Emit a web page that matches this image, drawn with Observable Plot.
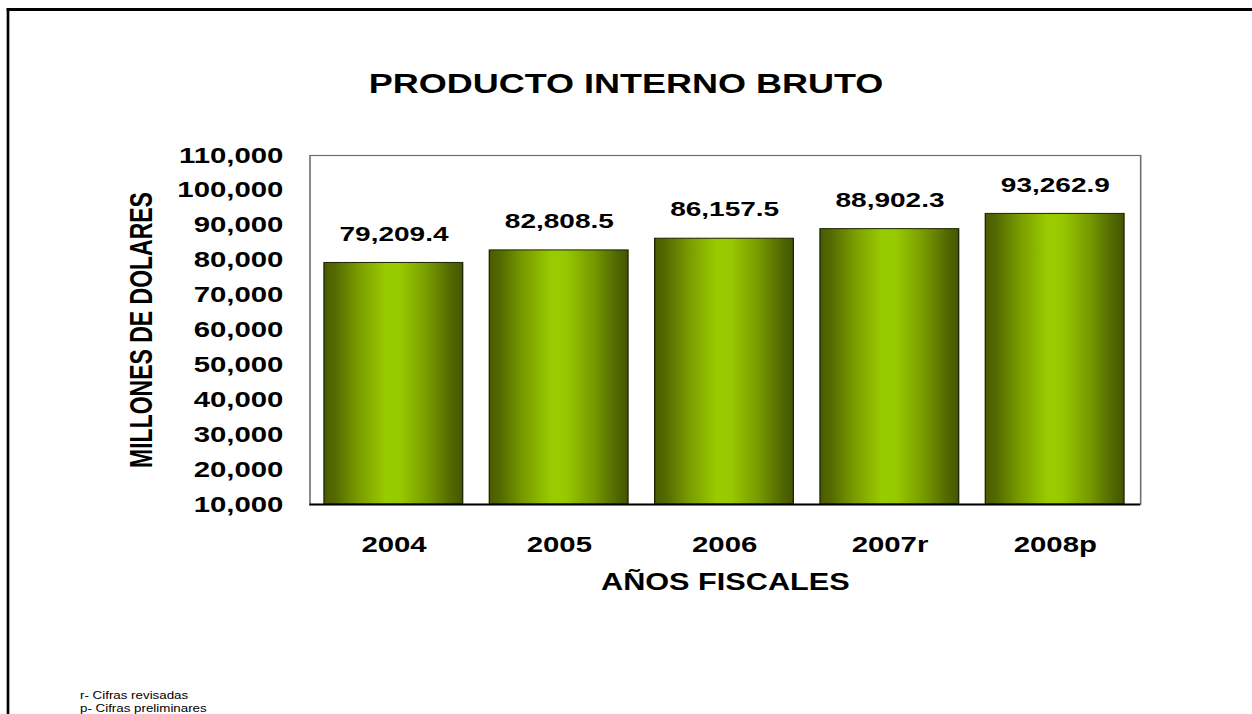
<!DOCTYPE html>
<html><head><meta charset="utf-8">
<script src="https://cdn.jsdelivr.net/npm/d3@7"></script>
<script src="https://cdn.jsdelivr.net/npm/@observablehq/plot@0.6"></script>
<style>
html,body{margin:0;padding:0;background:#fff;overflow:hidden;width:1252px;height:714px;}
#stage{position:absolute;left:0;top:0;width:939px;height:714px;transform-origin:0 0;transform:scale(1.333333,1);font-family:"Liberation Sans",Arial,sans-serif;color:#000;}
#border{position:absolute;left:5.3px;top:8px;width:1000px;height:800px;border-left:2.3px solid #000;border-top:3px solid #000;}
#title{position:absolute;left:0;width:939px;top:71px;text-align:center;font-weight:bold;font-size:27px;line-height:27px;}
#chart{position:absolute;left:0;top:0;}
.note{position:absolute;left:60px;font-size:10px;line-height:10px;white-space:nowrap;}
</style>
</head>
<body>
<div id="stage">
  <div id="border"></div>
  <div id="title">PRODUCTO INTERNO BRUTO</div>
  <div id="chart"></div>
  <div class="note" style="top:691px">r- Cifras revisadas</div>
  <div class="note" style="top:704px">p- Cifras preliminares</div>
</div>
<script>
const years = ["2004", "2005", "2006", "2007r", "2008p"];
const values = [79209.4, 82808.5, 86157.5, 88902.3, 93262.9];
const valueLabels = ["79,209.4", "82,808.5", "86,157.5", "88,902.3", "93,262.9"];
const yTicks = [10000, 20000, 30000, 40000, 50000, 60000, 70000, 80000, 90000, 100000, 110000];
const yDomain = [10000, 110000];
const yTitle = ["MILLONES DE DOLARES"];
const xTitle = ["AÑOS FISCALES"];

const data = years.map((y, i) => ({year: y, value: values[i], label: valueLabels[i]}));
const font = '"Liberation Sans", Arial, sans-serif';

const chart = Plot.plot({
  width: 939,
  height: 714,
  marginLeft: 232,
  marginRight: 84,
  marginTop: 155,
  marginBottom: 210,
  style: {fontFamily: font, fontSize: "22px", fontWeight: "bold", color: "#000", background: "transparent", overflow: "visible"},
  x: {domain: years, paddingInner: 0.16, paddingOuter: 0.08, label: null},
  y: {domain: yDomain, label: null},
  marks: [
    Plot.frame({stroke: "#6e6e6e", strokeWidth: 1.2}),
    Plot.rectY(data, {x: "year", y1: yDomain[0], y2: "value", fill: "url(#barGrad)", stroke: "#1e2400", strokeWidth: 1}),
    Plot.ruleY([yDomain[0]], {stroke: "#000", strokeWidth: 2}),
    Plot.text(data, {x: "year", y: "value", text: "label", dy: -29, lineAnchor: "middle", fontSize: 21, fontWeight: "bold", fill: "#000"}),
    Plot.axisY({ticks: yTicks, tickSize: 0, tickPadding: 20, tickFormat: d3.format(","), label: null, fontSize: 22, fontWeight: "bold"}),
    Plot.axisX({tickSize: 0, tickPadding: 32, label: null, fontSize: 22, fontWeight: "bold"}),
    Plot.text(yTitle, {frameAnchor: "left", dx: -125.5, rotate: -90, textAnchor: "middle", lineAnchor: "middle", fontSize: 23, fontWeight: "bold", fill: "#000"}),
    Plot.text(xTitle, {frameAnchor: "bottom", dy: 78, textAnchor: "middle", lineAnchor: "middle", fontSize: 23, fontWeight: "bold", fill: "#000"})
  ]
});

const defs = d3.select(chart).insert("defs", ":first-child");
const grad = defs.append("linearGradient").attr("id", "barGrad").attr("x1", 0).attr("x2", 1).attr("y1", 0).attr("y2", 0);
[[0, "#4a5c00"], [0.08, "#546a00"], [0.25, "#7a9c00"], [0.45, "#99cc00"], [0.55, "#97c900"], [0.75, "#779a00"], [0.92, "#526700"], [1, "#455500"]]
  .forEach(([o, c]) => grad.append("stop").attr("offset", o).attr("stop-color", c));

document.getElementById("chart").appendChild(chart);
</script>
</body></html>
